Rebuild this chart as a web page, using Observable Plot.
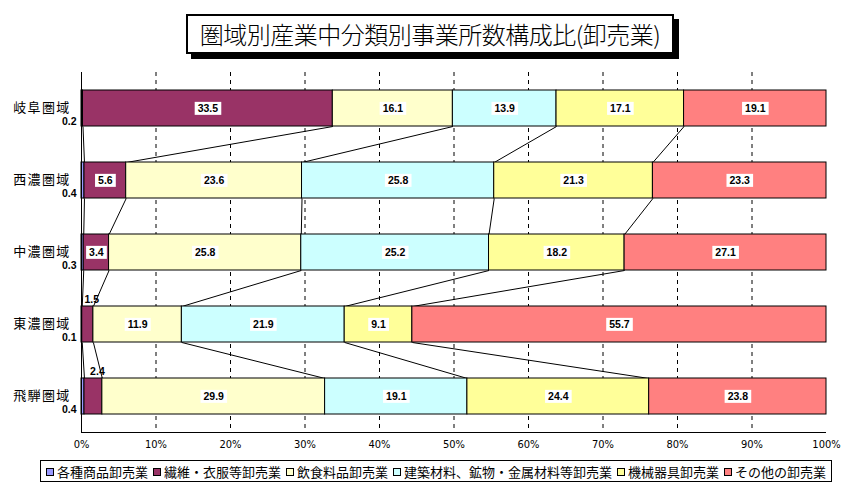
<!DOCTYPE html>
<html><head><meta charset="utf-8">
<script src="https://cdn.jsdelivr.net/npm/d3@7"></script>
<script src="https://cdn.jsdelivr.net/npm/@observablehq/plot@0.6"></script>
<style>
body{margin:0;background:#fff;width:864px;height:495px;overflow:hidden;font-family:"Noto Sans CJK JP",sans-serif;}
#title{height:62px;position:relative}
#title .box{position:absolute;left:186px;top:14px;width:488px;height:40px;box-sizing:border-box;border:2px solid #000;box-shadow:5px 5px 0 #000;background:#fff;font-size:24px;line-height:35px;text-align:center;white-space:nowrap;letter-spacing:-0.5px;font-weight:300}
#chart svg{display:block}
#legend{position:absolute;left:40px;top:460px;width:792px;height:22px;box-sizing:border-box;border:1px solid #000;display:flex;justify-content:space-between;align-items:center;padding:0 5px;font-size:13px;white-space:nowrap}
#legend .sw{display:inline-block;width:6px;height:6px;border:1px solid #000;margin-right:3px;vertical-align:middle;position:relative;top:-1px}
[aria-label="y-axis tick label"] text{letter-spacing:1.3px}
</style>
</head><body>
<div id="title"><div class="box">圏域別産業中分類別事業所数構成比(卸売業)</div></div>
<div id="chart"></div>
<div id="legend"></div>
<script>
const regions = ["岐阜圏域","西濃圏域","中濃圏域","東濃圏域","飛騨圏域"];
const industries = ["各種商品卸売業","繊維・衣服等卸売業","飲食料品卸売業","建築材料、鉱物・金属材料等卸売業","機械器具卸売業","その他の卸売業"];
const colors = ["#9999FF","#993366","#FFFFCC","#CCFFFF","#FFFF99","#FF8080"];
const gifu  = [0.2,33.5,16.1,13.9,17.1,19.1];
const seino = [0.4,5.6,23.6,25.8,21.3,23.3];
const chuno = [0.3,3.4,25.8,25.2,18.2,27.1];
const tono  = [0.1,1.5,11.9,21.9,9.1,55.7];
const hida  = [0.4,2.4,29.9,19.1,24.4,23.8];
const xTicks = [0,10,20,30,40,50,60,70,80,90,100];

const rows = [gifu, seino, chuno, tono, hida];
const half = 0.25;
const segs = [];
const cums = [];
rows.forEach((vals, i) => {
  const total = d3.sum(vals);
  let c = 0;
  const cum = [0];
  vals.forEach((v, k) => {
    const x1 = c / total * 100; c += v; const x2 = c / total * 100;
    cum.push(x2);
    segs.push({i, k, industry: industries[k], value: v, x1, x2, xm: (x1 + x2) / 2, y1: i - half, y2: i + half});
  });
  cums.push(cum);
});
const links = [];
for (let k = 1; k < industries.length; k++) {
  for (let i = 0; i < rows.length - 1; i++) {
    links.push({x1: cums[i][k], y1: i + half, x2: cums[i + 1][k], y2: i + 1 - half});
  }
}
const inside = segs.filter(d => d.k > 0 && d.value >= 3);
const above = segs.filter(d => d.k > 0 && d.value < 3);
const first = segs.filter(d => d.k === 0);
const numFmt = d => d.value.toFixed(1);
const lblFont = "'Liberation Sans', Arial, sans-serif";

const chart = Plot.plot({
  width: 864, height: 395,
  marginLeft: 81, marginRight: 38, marginTop: 10, marginBottom: 25,
  x: {domain: [0, 100], axis: null},
  y: {domain: [-0.5, 4.5], reverse: true, axis: null},
  color: {domain: industries, range: colors},
  style: {background: "white", fontFamily: "'Noto Sans CJK JP', sans-serif", color: "#000"},
  marks: [
    Plot.ruleX(xTicks.filter(d => d > 0 && d < 100), {stroke: "#000", strokeWidth: 1, strokeDasharray: "4,4"}),
    Plot.link(links, {x1: "x1", y1: "y1", x2: "x2", y2: "y2", stroke: "#000", strokeWidth: 1}),
    Plot.rect(segs, {x1: "x1", x2: "x2", y1: "y1", y2: "y2", fill: "industry", stroke: "#000", strokeWidth: 1}),
    Plot.ruleX([0], {stroke: "#000", strokeWidth: 1}),
    Plot.ruleY([4.5], {stroke: "#000", strokeWidth: 1}),
    Plot.axisX(xTicks, {tickFormat: d => d + "%", tickSize: 0, tickPadding: 8, fontSize: 11, fontFamily: "'Liberation Sans Narrow','DejaVu Sans Condensed',sans-serif", label: null}),
    Plot.axisY(d3.range(regions.length), {tickFormat: i => regions[i], tickSize: 0, tickPadding: 11, fontSize: 13, dy: -1, label: null}),
    Plot.text(inside, {x: "xm", y: "i", text: numFmt, fontSize: 10.5, fontWeight: "bold", fontFamily: lblFont, fill: "#000", ariaDescription: "value-labels"}),
    Plot.text(above, {x: "xm", y: "y1", dx: 4, dy: -7, text: numFmt, fontSize: 10.5, fontWeight: "bold", fontFamily: lblFont, fill: "#000"}),
    Plot.text(first, {x: 0, y: "i", dx: -5, dy: 13, textAnchor: "end", text: numFmt, fontSize: 10.5, fontWeight: "bold", fontFamily: lblFont, fill: "#000"})
  ]
});
document.getElementById("chart").appendChild(chart);

// white boxes behind in-bar value labels
const g = chart.querySelector('g[aria-description="value-labels"]');
if (g) {
  g.querySelectorAll("text").forEach(t => {
    const b = t.getBBox();
    const r = document.createElementNS("http://www.w3.org/2000/svg", "rect");
    r.setAttribute("x", b.x - 3);
    r.setAttribute("y", b.y);
    r.setAttribute("width", b.width + 6);
    r.setAttribute("height", b.height + 1);
    r.setAttribute("fill", "white");
    const tr = t.getAttribute("transform");
    if (tr) r.setAttribute("transform", tr);
    t.parentNode.insertBefore(r, t);
  });
}

const legend = document.getElementById("legend");
industries.forEach((name, k) => {
  const s = document.createElement("span");
  const sw = document.createElement("span");
  sw.className = "sw";
  sw.style.background = colors[k];
  s.appendChild(sw);
  s.appendChild(document.createTextNode(name));
  legend.appendChild(s);
});
</script>
</body></html>
